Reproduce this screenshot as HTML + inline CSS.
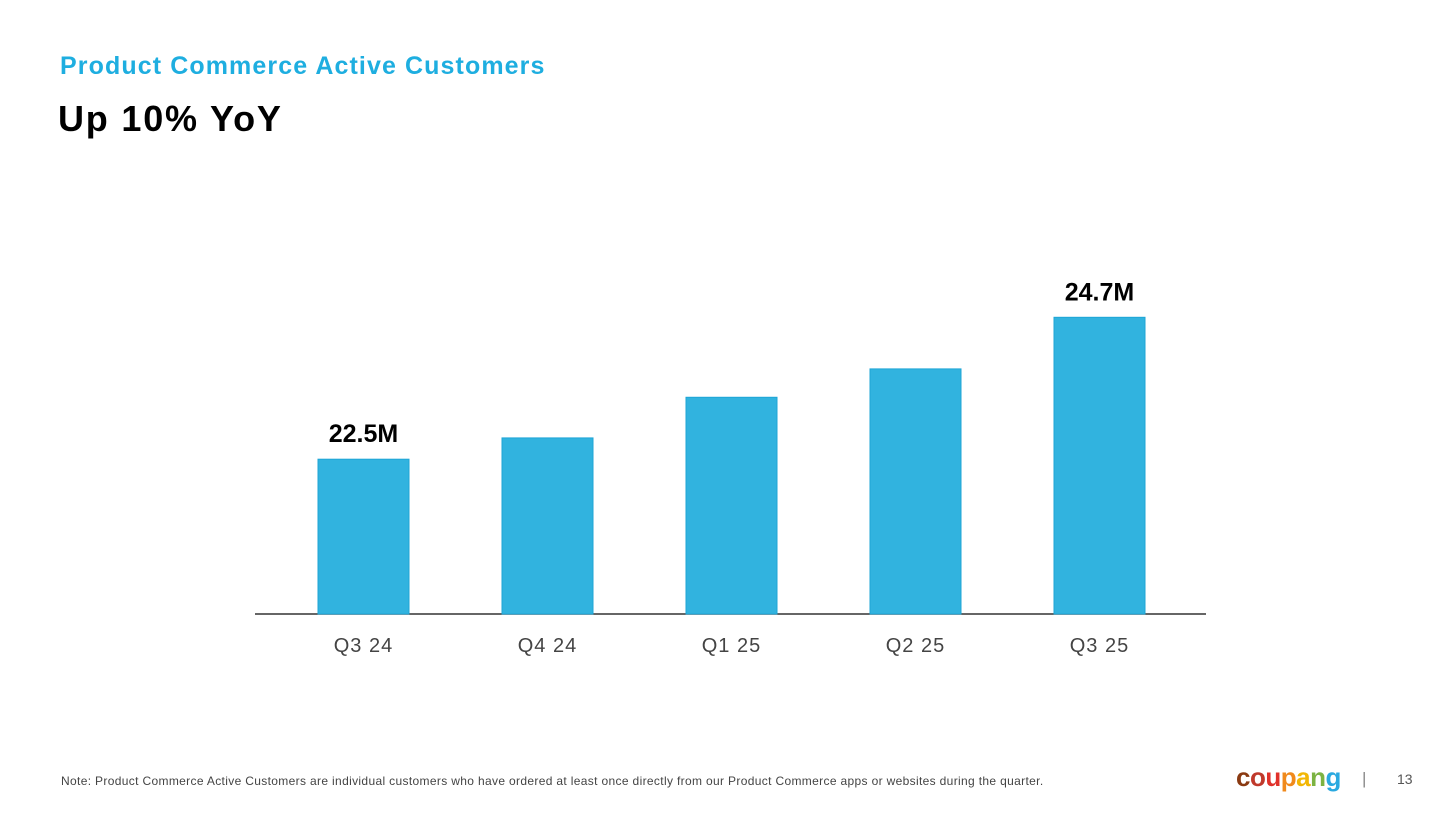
<!DOCTYPE html>
<html><head><meta charset="utf-8"><style>
body{margin:0;width:1456px;height:818px;background:#fff;font-family:"Liberation Sans",sans-serif;position:relative;overflow:hidden}
.t{position:absolute;white-space:nowrap}
</style></head><body>
<div class="t" style="left:60px;top:52px;font-size:25px;font-weight:bold;color:#1eaee0;letter-spacing:1.1px">Product Commerce Active Customers</div>
<div class="t" style="left:58px;top:98px;font-size:36px;font-weight:bold;color:#000;letter-spacing:1.8px">Up 10% YoY</div>
<svg id="chart" width="1456" height="818" style="position:absolute;left:0;top:0"></svg>
<div class="t" style="left:61px;top:774px;font-size:12px;color:#444;letter-spacing:0.34px">Note: Product Commerce Active Customers are individual customers who have ordered at least once directly from our Product Commerce apps or websites during the quarter.</div>
<div class="t" style="left:1236px;top:762px;font-size:26px;font-weight:bold;letter-spacing:-0.5px"><span style="color:#8a3a12">c</span><span style="color:#c0392b">o</span><span style="color:#e0312a">u</span><span style="color:#f08a1c">p</span><span style="color:#f2b705">a</span><span style="color:#7cb342">n</span><span style="color:#2aa9e0">g</span></div>
<div class="t" style="left:1362px;top:769px;font-size:17px;color:#888">|</div>
<div class="t" style="left:1397px;top:771px;font-size:14px;color:#555">13</div>
<script>
const categories=["Q3 24","Q4 24","Q1 25","Q2 25","Q3 25"];
const values=[22.5,22.83,23.46,23.9,24.7];
const valueLabels=["22.5M","","","","24.7M"];
const svg=document.getElementById('chart');
const NS="http://www.w3.org/2000/svg";
const base=614, yMin=20.1, pxPer=64.5;
function y(v){return base-(v-yMin)*pxPer;}
function x(i){return 318+i*184;}
const bw=91;
const ax=document.createElementNS(NS,'line');
ax.setAttribute('x1',255);ax.setAttribute('x2',1206);ax.setAttribute('y1',base);ax.setAttribute('y2',base);
ax.setAttribute('stroke','#333');ax.setAttribute('stroke-width','1.5');


svg.appendChild(ax);
categories.forEach((c,i)=>{
  const r=document.createElementNS(NS,'rect');
  r.setAttribute('x',x(i));r.setAttribute('y',y(values[i]));r.setAttribute('width',bw);r.setAttribute('height',base-y(values[i]));
  r.setAttribute('fill','#31b3df');r.setAttribute('stroke','#1ea5d6');r.setAttribute('stroke-width','1');
  
  
  svg.appendChild(r);
  const t=document.createElementNS(NS,'text');
  t.setAttribute('x',x(i)+bw/2);t.setAttribute('y',652);t.setAttribute('text-anchor','middle');
  t.setAttribute('font-size','20');t.setAttribute('fill','#444');t.setAttribute('letter-spacing','1');t.textContent=c;
  
  
  svg.appendChild(t);
  if(valueLabels[i]){
    const v=document.createElementNS(NS,'text');
    v.setAttribute('x',x(i)+bw/2);v.setAttribute('y',y(values[i])-17);v.setAttribute('text-anchor','middle');
    v.setAttribute('font-size','25');v.setAttribute('font-weight','bold');v.setAttribute('fill','#000');v.textContent=valueLabels[i];
    
    
    svg.appendChild(v);
  }
});
</script>
</body></html>
